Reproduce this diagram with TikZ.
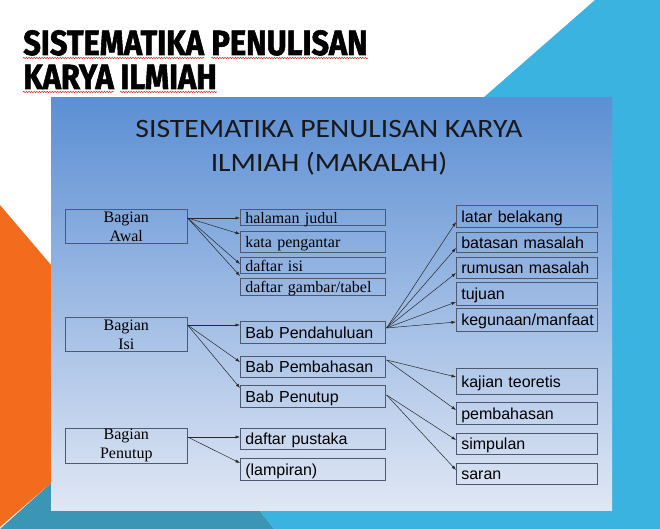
\documentclass[tikz,border=0pt]{standalone}
\usepackage{fontspec}
\setmainfont{Liberation Serif}
\newfontfamily\arialfont{Liberation Sans}
\newfontfamily\headfont[FakeStretch=1.12]{Carlito}
\newfontfamily\titlefont[FakeStretch=0.88,FakeBold=1.6]{Fira Sans}
\usepackage{tikz}
\usetikzlibrary{positioning}
\usetikzlibrary{arrows.meta}
\usetikzlibrary{math}
\usetikzlibrary{calc}
\usetikzlibrary{decorations.pathmorphing}

\definecolor{slideblue}{RGB}{59,179,224}
\definecolor{slideteal}{RGB}{58,150,180}
\definecolor{slideorange}{RGB}{243,108,30}
\definecolor{paneltop}{RGB}{92,143,212}
\definecolor{panelmid}{RGB}{178,199,234}
\definecolor{panelbot}{RGB}{224,231,244}
\definecolor{boxline}{RGB}{78,88,110}
\definecolor{arrowgray}{RGB}{40,40,40}
\definecolor{spellred}{RGB}{225,40,40}

\begin{document}
\begin{tikzpicture}[x=1pt,y=-1pt,line width=0.6pt,
  titleword/.style={anchor=base west, inner sep=0pt,
    font=\titlefont\bfseries\fontsize{35}{35}\selectfont},
  squiggle/.style={draw=spellred, line width=0.5pt,
    decorate, decoration={snake, amplitude=0.7pt, segment length=2.6pt}},
  bagian/.style={draw=boxline, anchor=north west, inner sep=0pt,
    minimum width=122, minimum height=34, align=center,
    font=\fontsize{16}{19}\selectfont},
  listbox/.style={draw=boxline, anchor=north west, inner xsep=5pt,
    inner ysep=0pt, text width=#1, align=left,
    text height=12pt, text depth=0pt, font=\fontsize{16}{19}\selectfont},
  sans/.style={font=\arialfont\fontsize{16}{19}\selectfont},
  link/.style={draw=arrowgray, line width=0.5pt,
    -{Latex[length=4.5pt,width=3.2pt]}}]

  \tikzmath{
    \colA = 65;  % left edge of the Bagian boxes
    \colB = 240; % left edge of the middle column
    \colC = 456; % left edge of the right column
  }

  \useasboundingbox (0,0) rectangle (660,529);
  \fill[white] (0,0) rectangle (660,529);

  % slide background
  \fill[slideblue] (595,0) -- (660,0) -- (660,529) -- (274,529)
    -- (240,485) -- (483,98) -- cycle;
  \fill[slideteal] (0,529) -- (51,483) -- (238,483) -- (274,529) -- cycle;
  \fill[slideorange] (0,205) -- (51,265) -- (51,483) -- (0,527) -- cycle;

  % slide title with spell check marks
  \node[titleword] (tsis) at (23,55) {SISTEMATIKA};
  \node[titleword] (tpen) at ($(tsis.base east)+(7,0)$) {PENULISAN};
  \node[titleword] (tkar) at (23,89) {KARYA};
  \node[titleword] (tilm) at ($(tkar.base east)+(6,0)$) {ILMIAH};
  \draw[squiggle] ($(tsis.base west)+(0,3)$) -- ($(tsis.base east)+(0,3)$);
  \draw[squiggle] ($(tpen.base west)+(0,3)$) -- ($(tpen.base east)+(0,3)$);
  \draw[squiggle] ($(tkar.base west)+(0,3)$) -- ($(tkar.base east)+(0,3)$);
  \draw[squiggle] ($(tilm.base west)+(0,3)$) -- ($(tilm.base east)+(0,3)$);

  % picture panel
  \shade[top color=paneltop, middle color=panelmid, bottom color=panelbot]
    (51,98) rectangle (612,510);
  \node[anchor=north, inner sep=0pt, align=center, text=black!90,
    font=\headfont\fontsize{26.5}{34}\selectfont] (heading) at (329,120)
    {SISTEMATIKA PENULISAN KARYA\\ILMIAH (MAKALAH)};

  % left column
  \node[bagian] (awal) at (\colA,209) {Bagian\\Awal};
  \node[bagian] (isi) at (\colA,317) {Bagian\\Isi};
  \node[bagian, minimum height=35] (penutup) at (\colA,428) {Bagian\\Penutup};

  % middle column
  \node[listbox=135pt, minimum height=16] (judul) at (\colB,209) {halaman judul};
  \node[listbox=135pt, minimum height=21] (pengantar) at (\colB,231) {kata pengantar};
  \node[listbox=135pt, minimum height=16] (daftarisi) at (\colB,257) {daftar isi};
  \node[listbox=135pt, minimum height=17] (gambar) at (\colB,278) {daftar gambar/tabel};
  \node[listbox=135pt, sans, minimum height=22] (pendahuluan) at (\colB,321) {Bab Pendahuluan};
  \node[listbox=135pt, sans, minimum height=21] (pembahasan) at (\colB,356) {Bab Pembahasan};
  \node[listbox=135pt, sans, minimum height=22] (babpenutup) at (\colB,385) {Bab Penutup};
  \node[listbox=135pt, sans, minimum height=21] (pustaka) at (\colB,428) {daftar pustaka};
  \node[listbox=135pt, sans, minimum height=22] (lampiran) at (\colB,458) {(lampiran)};

  % right column
  \node[listbox=131pt, sans, minimum height=22] (latar) at (\colC,205) {latar belakang};
  \node[listbox=131pt, sans, minimum height=20] (batasan) at (\colC,232) {batasan masalah};
  \node[listbox=131pt, sans, minimum height=21] (rumusan) at (\colC,257) {rumusan masalah};
  \node[listbox=131pt, sans, minimum height=23] (tujuan) at (\colC,282) {tujuan};
  \node[listbox=131pt, sans, minimum height=23] (kegunaan) at (\colC,308) {kegunaan/manfaat};
  \node[listbox=131pt, sans, minimum height=26] (kajian) at (\colC,368) {kajian teoretis};
  \node[listbox=131pt, sans, minimum height=22] (bahasan) at (\colC,402) {pembahasan};
  \node[listbox=131pt, sans, minimum height=21] (simpulan) at (\colC,433) {simpulan};
  \node[listbox=131pt, sans, minimum height=21] (saran) at (\colC,463) {saran};

  % Bagian Awal
  \draw[link] ($(awal.north east)+(0,9)$) -- ($(judul.north west)+(0,9)$);
  \draw[link] ($(awal.north east)+(0,9)$) -- ($(pengantar.north west)+(0,3)$);
  \draw[link] ($(awal.north east)+(0,9)$) -- ($(daftarisi.north west)+(0,7)$);
  \draw[link] ($(awal.north east)+(0,9)$) -- ($(gambar.north west)+(0,-2)$);

  % Bagian Isi
  \draw[link] ($(isi.north east)+(0,8)$) -- ($(pendahuluan.north west)+(0,4)$);
  \draw[link] ($(isi.north east)+(0,8)$) -- ($(pembahasan.north west)+(0,6)$);
  \draw[link] ($(isi.north east)+(0,8)$) -- ($(babpenutup.north west)+(0,3)$);

  % Bagian Penutup
  \draw[link] ($(penutup.north east)+(0,9)$) -- ($(pustaka.north west)+(0,9)$);
  \draw[link] ($(penutup.north east)+(0,9)$) -- ($(lampiran.north west)+(0,5)$);

  % Bab Pendahuluan
  \draw[link] ($(pendahuluan.north east)+(1,7)$) -- ($(latar.north west)+(0,17)$);
  \draw[link] ($(pendahuluan.north east)+(1,7)$) -- ($(batasan.north west)+(0,16)$);
  \draw[link] ($(pendahuluan.north east)+(1,7)$) -- ($(rumusan.north west)+(0,16)$);
  \draw[link] ($(pendahuluan.north east)+(1,7)$) -- ($(tujuan.north west)+(0,20)$);
  \draw[link] ($(pendahuluan.north east)+(1,7)$) -- ($(kegunaan.north west)+(0,14)$);

  % Bab Pembahasan and Bab Penutup
  \draw[link] ($(pembahasan.north east)+(1,4)$) -- ($(kajian.north west)+(0,9)$);
  \draw[link] ($(pembahasan.north east)+(1,4)$) -- ($(bahasan.north west)+(0,8)$);
  \draw[link] ($(babpenutup.north east)+(1,10)$) -- ($(simpulan.north west)+(0,7)$);
  \draw[link] ($(babpenutup.north east)+(1,10)$) -- ($(saran.north west)+(0,7)$);

\end{tikzpicture}
\end{document}
